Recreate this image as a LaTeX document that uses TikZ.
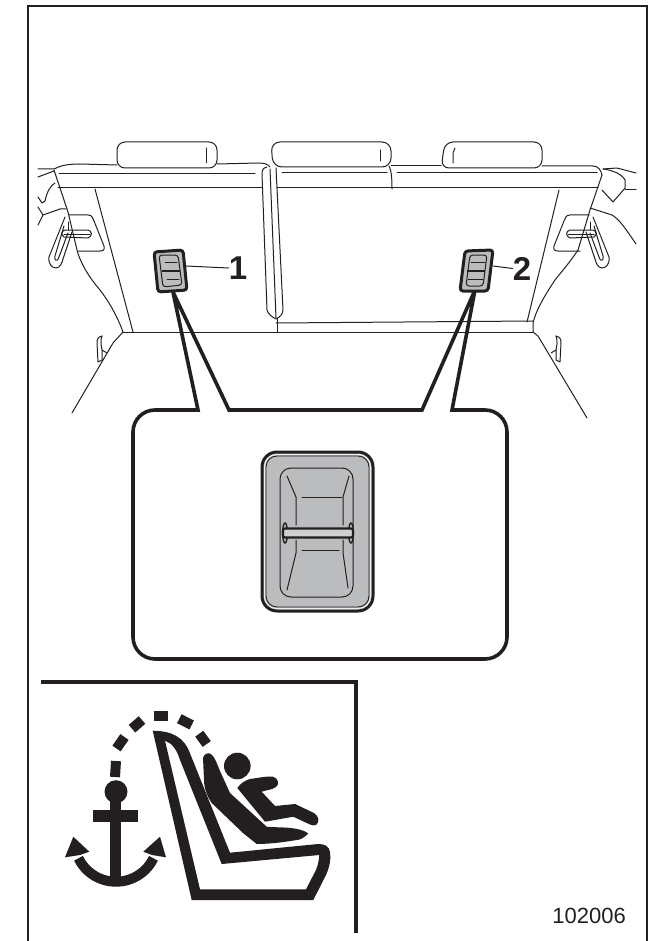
\documentclass[tikz,border=0pt]{standalone}
\usepackage{fontspec}
\setmainfont{Liberation Sans}
\definecolor{inkdark}{RGB}{35,31,32}
\definecolor{plategray}{RGB}{186,188,190}
\tikzset{
  thinline/.style={draw=inkdark, line width=1pt, line cap=round, line join=round},
  calloutline/.style={draw=inkdark, line width=3.6pt, line join=miter},
  iconfill/.style={fill=inkdark, draw=none},
  numlabel/.style={font=\bfseries\fontsize{33}{33}\selectfont, text=inkdark, inner sep=0pt},
}
\newcommand{\seatbelt}{
  \draw[thinline] (69,215) -- (88,215) .. controls (92,215) and (93,218) .. (94,221) -- (104,246) .. controls (105,250) and (103,251) .. (100,251) -- (78,251);
  \draw[thinline] (65,217) -- (49,257) .. controls (48,264) and (52,268) .. (56,268) .. controls (60,268) and (62,263) .. (63,259) -- (72,232);
  \draw[thinline] (64,226) -- (55,256) .. controls (54,260) and (57,263) .. (59,257) -- (68,233);
  \draw[thinline] (65,230) -- (88,230) .. controls (92,231) and (93,236) .. (88,238) -- (64,237) .. controls (61,235) and (61,231) .. (65,230);
  \draw[thinline] (68,222) -- (68,230);
  \draw[thinline] (64,234) -- (90,234);
  \draw[thinline] (102,336) .. controls (98,337) and (97,339) .. (97,343) -- (98,362) -- (102,360) -- (102,350) -- (107,353);
  \draw[thinline] (102,336) .. controls (101,338) and (101,340) .. (101,344) -- (102,350);
}
\begin{document}
\begin{tikzpicture}[x=1pt, y=-1pt]
  \useasboundingbox (0,0) rectangle (656,941);
  \draw[inkdark, line width=2pt] (27.5,941) -- (27.5,6) -- (646.5,6) -- (646.5,941);

  % seat backs
  \draw[thinline] (38,169) -- (54,169) .. controls (60,166) and (66,164) .. (80,164) -- (117,165);
  \draw[thinline] (38,177) -- (54,171);
  \draw[thinline] (54,170) -- (68,212) -- (77,250) .. controls (80,262) and (88,276) .. (100,290) .. controls (110,303) and (118,318) .. (123,332);
  \draw[thinline] (217,164) -- (258,163) .. controls (264,163) and (268,164) .. (270,167);
  \draw[thinline] (59,174) -- (255,174);
  \draw[thinline] (58,188) -- (262,188);
  \draw[thinline] (95,189) -- (133,332);
  \draw[thinline] (123,332) -- (533,332);
  \draw[thinline] (123,332) -- (113,343) -- (72,413);
  \draw[thinline] (55,183) .. controls (50,186) and (47,192) .. (45,201) -- (42,203) -- (38,197);
  \draw[thinline] (38,207) -- (43,215) -- (38,225);
  \draw[thinline] (43,215) -- (60,209) -- (66,209);
  \seatbelt
  \begin{scope}[shift={(658,0)}, xscale=-1]
    \seatbelt
  \end{scope}

  % headrests
  \draw[thinline, rounded corners=8pt] (117,168) -- (117,142) -- (217,142) -- (217,168) -- cycle;
  \draw[thinline] (206.5,148) -- (206.5,163);
  \draw[thinline, rounded corners=9pt] (273,167) -- (271,142) -- (391,142) -- (391,167) -- cycle;
  \draw[thinline] (380,150) -- (380,161);
  \draw[thinline, rounded corners=8pt] (441,168) -- (445,142) -- (542,142) -- (542,168) -- cycle;
  \draw[thinline] (453,163) -- (453,153) -- (455,148);

  % center strip
  \draw[thinline] (267,167) .. controls (263,168) and (262,170) .. (262,174) -- (267,310) .. controls (268,314) and (272,317) .. (276,319) .. controls (280,317) and (283,314) .. (283,310) -- (276,168);
  \draw[thinline] (270,169) -- (276,318);
  \draw[thinline] (277,318) -- (277,332);
  \draw[thinline] (276,323) -- (533,321);
  \draw[thinline] (282,173) -- (387,173);
  \draw[thinline] (277,188) -- (598,188);
  \draw[thinline] (389,166) .. controls (391,170) and (392,176) .. (392,189);
  \draw[thinline] (391,166) -- (441,166);
  \draw[thinline] (542,166) -- (593,166) .. controls (598,166) and (601,170) .. (602,175);
  \draw[thinline] (397,173) -- (597,173);
  \draw[thinline] (602,175) -- (590,210) -- (578,250) .. controls (570,262) and (563,270) .. (555,280) .. controls (545,295) and (536,310) .. (533,323) -- (533,332) -- (538,336) -- (587,418);
  \draw[thinline] (559,190) -- (527,322);
  \draw[thinline] (603,169) -- (617,168) -- (636,173);
  \draw[thinline] (603,169) .. controls (612,170) and (622,174) .. (625,180) -- (625,188) .. controls (622,192) and (618,196) .. (613,202) -- (602,190);
  \draw[thinline] (625,190) -- (636,190);
  \draw[thinline] (590,208) -- (612,215) .. controls (620,220) and (625,228) .. (636,244);

  % callout
  \draw[calloutline] (173,292) -- (198,410) -- (155,410) arc[start angle=270, end angle=180, radius=22] -- (133,637) arc[start angle=180, end angle=90, radius=22] -- (485,659) arc[start angle=90, end angle=0, radius=22] -- (507,432) arc[start angle=0, end angle=-90, radius=22] -- (452,410) -- (475,290) -- (422,410) -- (229,410) -- cycle;

  % small anchor covers
  \draw[inkdark, fill=plategray, line width=3pt, rounded corners=3pt] (154,252) -- (183,250) -- (187,290) -- (158,292) -- cycle;
  \draw[thinline, rounded corners=3pt] (159,255) -- (178,255) -- (182,285) -- (163,287) -- cycle;
  \draw[thinline] (165,262) -- (177,262);
  \draw[thinline] (167,279) -- (179,279);
  \draw[inkdark, line width=2.6pt] (162,271) -- (180,271);
  \draw[inkdark, fill=plategray, line width=3pt, rounded corners=3pt] (465,251) -- (493,250) -- (488,291) -- (460,291) -- cycle;
  \draw[thinline, rounded corners=3pt] (470,255) -- (487,255) -- (483,286) -- (466,286) -- cycle;
  \draw[thinline] (471,262) -- (485,262);
  \draw[thinline] (468,279) -- (483,279);
  \draw[inkdark, line width=2.6pt] (467,271) -- (485,271);

  \node[numlabel] (numone) at (238,268) {1};
  \node[numlabel] (numtwo) at (522,268.5) {2};
  \coordinate (leadone) at (186,266);
  \coordinate (leadtwo) at (493,266);
  \draw[thinline] (leadone) -- (numone.west);
  \draw[thinline] (leadtwo) -- (numtwo.west);

  % large anchor cover
  \draw[inkdark, fill=plategray, line width=3pt, rounded corners=15pt] (262,452) rectangle (373,611);
  \draw[white!75!plategray, line width=1pt, rounded corners=12pt] (264.5,454.5) rectangle (370.5,608.5);
  \draw[inkdark, line width=.9pt, rounded corners=11pt] (266,456) rectangle (369,607);
  \draw[thinline, rounded corners=11pt] (280,468) rectangle (353,597);
  \draw[thinline] (287,476) -- (296,497) -- (296,525);
  \draw[thinline] (349,476) -- (343,497) -- (343,525);
  \draw[thinline] (296,540) -- (296,553) -- (287,590);
  \draw[thinline] (343,540) -- (343,553) -- (348,588);
  \draw[thinline] (302,497) -- (342,497);
  \draw[thinline] (302,550) -- (339,550);
  \draw[inkdark, line width=1.4pt, fill=plategray] (285,533) ellipse (2.4 and 10);
  \draw[inkdark, line width=1.4pt, fill=plategray] (351,533) ellipse (2.4 and 10);
  \draw[inkdark, fill=plategray!70!white, line width=2.2pt, rounded corners=2pt] (283,528.5) rectangle (353,537.5);

  % child seat symbol
  \draw[inkdark, line width=4pt] (41,682) -- (356,682) -- (356,933);
  \foreach \xa/\ya/\xb/\yb in {116/761/115/777, 116.5/748.5/124.5/737, 132/728.7/142/720, 153.7/716/167.7/716, 179.3/718.7/191.7/725, 199.3/733.7/206.7/744}
    \draw[inkdark, line width=10pt] (\xa,\ya) -- (\xb,\yb);
  \fill[inkdark] (116,791.7) circle (11.5);
  \fill[inkdark] (93.3,810) rectangle (138.3,822.3);
  \fill[inkdark] (110,795) rectangle (120.7,883);
  \draw[inkdark, line width=10pt] (78.5,858.3) arc[start angle=154, end angle=26, radius=41.7];
  \fill[inkdark] (73.3,836.7) -- (65,857.3) -- (80,855) -- (89.3,851.7) -- cycle;
  \fill[inkdark] (160,836.7) -- (166,857.3) -- (152,855) -- (143.3,851.7) -- cycle;
  \fill[inkdark, even odd rule] (152.7,730.7) -- (191.7,900) -- (313.3,900) -- (326,875) .. controls (330,866) and (331,858) .. (330,852) .. controls (329,846) and (325,844) .. (318,844) -- (230,852.7) -- (190,753.3) .. controls (184,737) and (172,731) .. (152.7,730.7) -- cycle
    (165,740.7) -- (200,889.3) -- (306,889.3) -- (316,870) .. controls (318,865) and (319,860) .. (319.3,855) -- (221.7,864) -- (180,760) .. controls (177,750) and (172,743) .. (165,740.7) -- cycle;
  \fill[inkdark] (237.3,766) circle (13.3);
  \fill[inkdark] (203,758) .. controls (204,754) and (208,752) .. (211,754) .. controls (215,757) and (217,764) .. (220,771) -- (230,793) -- (266.7,826.7) .. controls (280,828) and (297,826) .. (308.3,833.3) .. controls (304,838) and (300,840) .. (296.7,840) .. controls (285,842) and (270,844) .. (256.7,844) -- (243,833) -- (211.7,803) .. controls (207,796) and (204,788) .. (204,780) -- cycle;
  \fill[inkdark] (237.3,788) .. controls (241,783) and (244,781) .. (250,779) .. controls (258,778) and (266,776) .. (273,776.7) .. controls (278,778) and (280,784) .. (276,787) .. controls (272,790) and (266,790) .. (261.7,791.7) -- (275,806) -- (295,804) -- (314,813) .. controls (319,816) and (320,822) .. (316,825) .. controls (314,826) and (312,825) .. (310,824.5) -- (293.3,816.7) -- (265,821.7) -- cycle;

  \node[inner sep=0pt, text=inkdark, font=\fontsize{22}{22}\selectfont, anchor=east] (partno) at (626,916) {102006};
\end{tikzpicture}
\end{document}
